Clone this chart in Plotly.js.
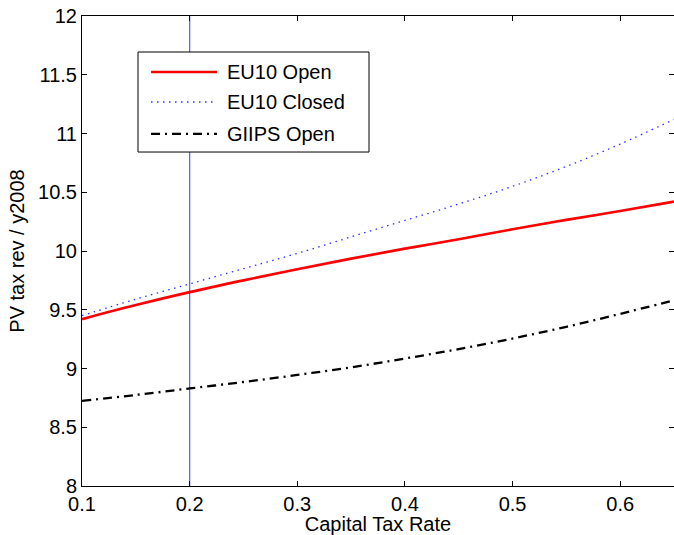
<!DOCTYPE html>
<html>
<head>
<meta charset="utf-8">
<script src="https://cdn.plot.ly/plotly-3.0.1.min.js"></script>
<style>html,body{margin:0;padding:0;background:#fff;}#chart{width:674px;height:535px;}</style>
</head>
<body>
<div id="chart"></div>
<script>
const taxRate = [0.1, 0.15, 0.2, 0.25, 0.3, 0.35, 0.4, 0.45, 0.5, 0.55, 0.6, 0.65];
const eu10Open = [9.42, 9.54, 9.65, 9.75, 9.845, 9.935, 10.02, 10.10, 10.185, 10.265, 10.34, 10.42];
const eu10Closed = [9.45, 9.59, 9.72, 9.85, 9.98, 10.12, 10.26, 10.40, 10.55, 10.72, 10.91, 11.12];
const giipsOpen = [8.725, 8.775, 8.83, 8.885, 8.945, 9.01, 9.085, 9.165, 9.255, 9.355, 9.465, 9.58];
const markerRate = 0.2;
const seriesNames = ['EU10 Open', 'EU10 Closed', 'GIIPS Open'];
const yTicks = [8, 8.5, 9, 9.5, 10, 10.5, 11, 11.5, 12];
const xTicks = [0.1, 0.2, 0.3, 0.4, 0.5, 0.6];

const font = 'Liberation Sans, Arial, sans-serif';
const styles = [
  {color: '#ff0000', width: 2.6},
  {color: '#2e2eff', width: 1.3, dash: '1.5px,4.5px'},
  {color: '#000000', width: 2.3, dash: '9px,5px,2px,5px'}
];
const seriesY = [eu10Open, eu10Closed, giipsOpen];
const traces = seriesY.map((ys, i) => ({
  x: taxRate, y: ys, name: seriesNames[i], mode: 'lines', showlegend: false,
  line: Object.assign({shape: 'spline', smoothing: 1}, styles[i])
}));

// manual MATLAB-style legend box (paper coordinates)
const lg = {x0: 0.0946, x1: 0.4848, y0: 0.7106, y1: 0.9234, lx0: 0.1166, lx1: 0.228, tx: 0.2416,
  rows: [0.8809, 0.817, 0.749]};
const shapes = [
  {type: 'line', xref: 'x', yref: 'paper', x0: markerRate, x1: markerRate, y0: 0, y1: 1,
   line: {color: '#6464ff', width: 1.3}, layer: 'below'},
  {type: 'rect', xref: 'paper', yref: 'paper', x0: lg.x0, x1: lg.x1, y0: lg.y0, y1: lg.y1,
   fillcolor: '#fff', line: {color: '#000', width: 1}, layer: 'above'}
];
const annotations = [];
seriesNames.forEach((n, i) => {
  shapes.push({type: 'line', xref: 'paper', yref: 'paper', x0: lg.lx0, x1: lg.lx1, y0: lg.rows[i], y1: lg.rows[i],
    line: styles[i], layer: 'above'});
  annotations.push({xref: 'paper', yref: 'paper', x: lg.tx, y: lg.rows[i], xanchor: 'left', yanchor: 'middle',
    text: n, showarrow: false, font: {size: 20, color: '#000'}});
});

const layout = {
  width: 674, height: 535,
  margin: {l: 82, r: 0, t: 16, b: 49},
  paper_bgcolor: '#fff', plot_bgcolor: '#fff',
  font: {family: font, size: 20, color: '#000'},
  xaxis: {
    range: [0.1, 0.65], tickvals: xTicks, ticktext: xTicks.map(v => v.toFixed(1)),
    ticks: 'inside', ticklen: 5, tickcolor: '#000', showline: true, linecolor: '#000', linewidth: 1,
    mirror: 'ticks', showgrid: false, zeroline: false,
    tickfont: {size: 20}, title: {text: 'Capital Tax Rate', font: {size: 20}, standoff: 0}
  },
  yaxis: {
    range: [8, 12], tickvals: yTicks, ticktext: yTicks.map(v => String(v)),
    ticks: 'inside', ticklen: 5, tickcolor: '#000', showline: true, linecolor: '#000', linewidth: 1,
    mirror: 'ticks', showgrid: false, zeroline: false,
    tickfont: {size: 20}, title: {text: 'PV tax rev / y2008', font: {size: 20}, standoff: 8}
  },
  shapes: shapes,
  annotations: annotations,
  showlegend: false
};
Plotly.newPlot('chart', traces, layout, {displayModeBar: false, staticPlot: true});
</script>
</body>
</html>
